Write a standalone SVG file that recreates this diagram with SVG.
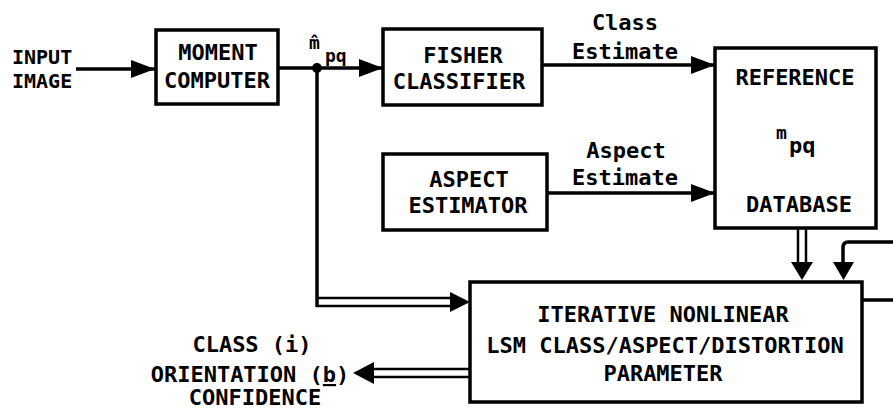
<svg xmlns="http://www.w3.org/2000/svg" width="893" height="412" viewBox="0 0 893 412">
<style>
.box{fill:#fff;stroke:#000;stroke-width:3.5}
.ln{fill:none;stroke:#000;stroke-width:3.5}
.dl{fill:none;stroke:#000;stroke-width:2.5}
.t{font-family:"DejaVu Sans Mono","Liberation Mono",monospace;font-weight:bold;font-size:22px;fill:#000}
.m{text-anchor:middle}
.s{font-size:18px}
.i{font-size:20px}
</style>
<defs>
<marker id="ah" markerUnits="userSpaceOnUse" markerWidth="26" markerHeight="20" refX="24" refY="10" orient="auto">
<path d="M0,1 L24,10 L0,19 Z" fill="#000"/>
</marker>
</defs>
<rect width="893" height="412" fill="#fff"/>
<g id="connectors">
<line class="ln" x1="76" y1="69" x2="155" y2="69" marker-end="url(#ah)"/>
<line class="ln" x1="278" y1="68" x2="383" y2="68" marker-end="url(#ah)"/>
<circle cx="317" cy="68" r="5" fill="#000"/>
<line class="ln" x1="317" y1="68" x2="317" y2="307"/>
<line class="ln" x1="542" y1="65" x2="715" y2="65" marker-end="url(#ah)"/>
<line class="ln" x1="547" y1="193" x2="715" y2="193" marker-end="url(#ah)"/>
<line class="dl" x1="317" y1="298" x2="455" y2="298"/>
<line class="dl" x1="316" y1="306" x2="455" y2="306"/>
<path d="M450,292 L470,302 L450,312 Z" fill="#000"/>
<line class="dl" x1="798" y1="228" x2="798" y2="264"/>
<line class="dl" x1="806" y1="228" x2="806" y2="264"/>
<path d="M791,262 L813,262 L802,280 Z" fill="#000"/>
<path class="ln" d="M893,242 L848,242 Q843,242 843,248 L843,264"/>
<path d="M833,262 L854,262 L843.5,280 Z" fill="#000"/>
<line class="ln" x1="862" y1="300" x2="893" y2="300"/>
<line class="dl" x1="470" y1="369" x2="368" y2="369"/>
<line class="dl" x1="470" y1="377" x2="368" y2="377"/>
<path d="M374,362 L353,373 L374,384 Z" fill="#000"/>
</g>
<g id="input-label">
<text class="t i" x="12" y="64">INPUT</text>
<text class="t i" x="12" y="88">IMAGE</text>
</g>
<g id="moment-computer">
<rect class="box" x="156" y="30" width="122" height="74"/>
<text class="t m" x="218" y="60">MOMENT</text>
<text class="t m" x="217" y="88">COMPUTER</text>
</g>
<g id="mpq-label">
<text class="t s" x="309" y="49">m̂</text>
<text class="t s" x="325" y="62">pq</text>
</g>
<g id="fisher-classifier">
<rect class="box" x="383" y="29" width="159" height="76"/>
<text class="t m" x="463" y="63">FISHER</text>
<text class="t m" x="459" y="89">CLASSIFIER</text>
</g>
<g id="class-estimate-label">
<text class="t m" x="625" y="30">Class</text>
<text class="t m" x="625" y="59">Estimate</text>
</g>
<g id="aspect-estimator">
<rect class="box" x="383" y="154" width="164" height="76"/>
<text class="t m" x="469" y="187">ASPECT</text>
<text class="t m" x="468" y="213">ESTIMATOR</text>
</g>
<g id="aspect-estimate-label">
<text class="t m" x="626" y="158">Aspect</text>
<text class="t m" x="625" y="185">Estimate</text>
</g>
<g id="reference-database">
<rect class="box" x="715" y="48" width="161" height="180"/>
<text class="t s" x="776" y="139">m</text>
<text class="t m" x="795" y="85">REFERENCE</text>
<text class="t" x="789" y="153">pq</text>
<text class="t m" x="799" y="212">DATABASE</text>
</g>
<g id="iterative-lsm">
<rect class="box" x="470" y="282" width="392" height="120"/>
<text class="t m" x="663" y="322">ITERATIVE NONLINEAR</text>
<text class="t m" x="665" y="353">LSM CLASS/ASPECT/DISTORTION</text>
<text class="t m" x="663" y="381">PARAMETER</text>
</g>
<g id="output-label">
<text class="t m" x="252" y="352">CLASS (i)</text>
<text class="t m" x="250" y="382">ORIENTATION (<tspan text-decoration="underline">b</tspan>)</text>
<text class="t m" x="255" y="405">CONFIDENCE</text>
</g>
</svg>
